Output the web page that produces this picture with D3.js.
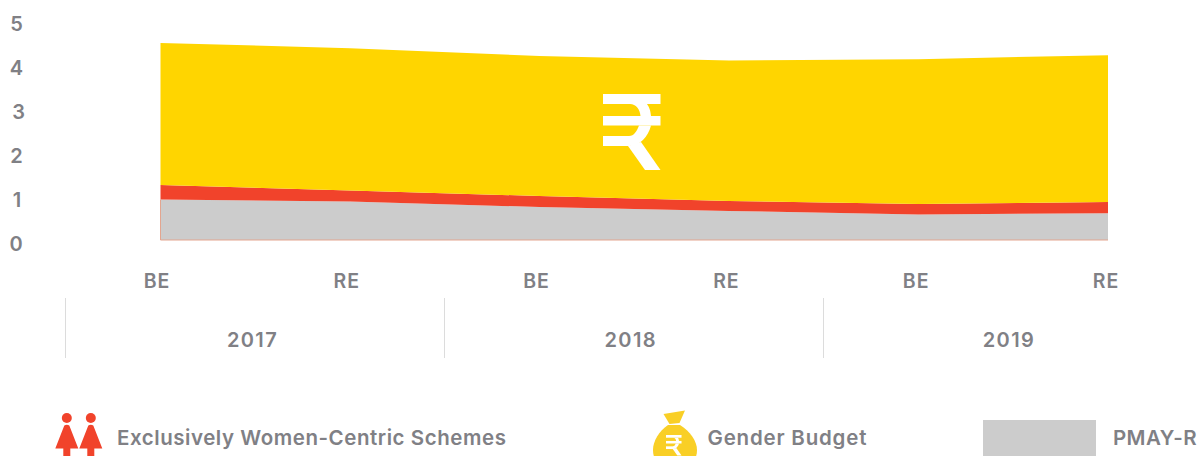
<!DOCTYPE html>
<html>
<head>
<meta charset="utf-8">
<script src="https://cdn.jsdelivr.net/npm/d3@7"></script>
<style>
html,body{margin:0;padding:0;background:#fff;overflow:hidden}
text{font-family:Inter,"Open Sans",sans-serif;font-weight:600;fill:#808085}
</style>
</head>
<body>
<svg id="c" width="1198" height="456"></svg>
<script>
const periods = ["BE","RE","BE","RE","BE","RE"];
const years = ["2017","2018","2019"];
const yTicks = [0,1,2,3,4,5];
const pmay = [0.92,0.875,0.75,0.66,0.58,0.61];
const women = [0.33,0.25,0.25,0.226,0.238,0.254];
const gender = [3.23,3.235,3.18,3.194,3.292,3.336];
const seriesNames = ["PMAY-R","Exclusively Women-Centric Schemes","Gender Budget"];
const seriesColors = ["#cccccc","#f1432b","#ffd500"];

const svg = d3.select("#c");
const idx = d3.range(periods.length);
const x = d3.scalePoint().domain(idx).range([160.5,1108]);
const y = d3.scaleLinear().domain([0,5]).range([240,20]);
const table = idx.map(i=>({i,[seriesNames[0]]:pmay[i],[seriesNames[1]]:women[i],[seriesNames[2]]:gender[i]}));
const stacked = d3.stack().keys(seriesNames)(table);
const area = d3.area().x(d=>x(d.data.i)).y0(d=>y(d[0])).y1(d=>y(d[1]));

svg.selectAll("path.band").data(stacked).join("path").attr("class","band")
  .attr("d",area).attr("fill",(d,i)=>seriesColors[i]);
svg.append("path").attr("d",d3.line()([[x(0),y(pmay[0])],[x(0),y(0)],[x(5),y(0)]]))
  .attr("fill","none").attr("stroke","#e3a58f").attr("stroke-width",1);

// y tick labels
const yLabelX = [16,17,16.5,18.5,16.5,16.5];
svg.selectAll("text.yt").data(yTicks).join("text").attr("class","yt")
  .attr("x",(d,i)=>yLabelX[i]).attr("y",d=>y(d)+11)
  .attr("text-anchor","middle").attr("font-size",20).text(d=>d);

// period labels
const xLab = d3.scalePoint().domain(idx).range([157,1106]);
svg.selectAll("text.per").data(idx).join("text").attr("class","per")
  .attr("x",d=>xLab(d)).attr("y",288).attr("text-anchor","middle")
  .attr("font-size",19.5).attr("letter-spacing",1).text(d=>periods[d]);

// year bands
const yr = d3.scalePoint().domain(years).range([252.5,1009]);
svg.selectAll("text.yr").data(years).join("text").attr("class","yr")
  .attr("x",d=>yr(d)).attr("y",347).attr("text-anchor","middle")
  .attr("font-size",20).attr("letter-spacing",1.4).text(d=>d);
const sep = d3.scalePoint().domain(years).range([65.5,823.5]);
svg.selectAll("line.sep").data(years).join("line").attr("class","sep")
  .attr("x1",d=>sep(d)).attr("x2",d=>sep(d)).attr("y1",298).attr("y2",358)
  .attr("stroke","#dcdcdc");

// rupee glyph
function rupee(g,color){
  const parts = [
    "M0 0H57.5V10H0Z",
    "M0 22H57.5V31.5H0Z",
    "M0 42H27V52H0Z",
    "M25 52L42 76H57.5L38 48Z",
    "M27 10C33 10 37 15 37.5 22H48C47.5 16 46 13 44 10Z",
    "M36 31.5C34 37 31 42 26 42V52C37 52 45 43 48 31.5Z"
  ];
  g.selectAll("path").data(parts).join("path").attr("fill",color).attr("d",d=>d);
}
rupee(svg.append("g").attr("transform","translate(603,94)"),"#fff");

// legend icons
const woman = svg.append("g").attr("fill","#f1432b");
[66.8,90.8].forEach(c=>{
  const g = woman.append("g").attr("transform",`translate(${c},0)`);
  g.append("circle").attr("cy",418).attr("r",5);
  g.append("path").attr("d","M-2.5 425.5Q0 424 2.5 425.5L11.5 448.5H3.5V456H-3.5V448.5H-11.5Z");
});
const bag = svg.append("g").attr("fill","#f9cf26");
bag.append("path").attr("d","M663.5 414L685 410.5L679.5 423L669.5 424Z");
bag.append("path").attr("d","M668 425H680C690 431 697 441 697 450C697 456 695 460 692 462H658C655 460 653 456 653 450C653 441 659 431 668 425Z");
rupee(svg.append("g").attr("transform","translate(666,435) scale(0.27)"),"#fff");

svg.append("rect").attr("x",983).attr("y",420).attr("width",113).attr("height",40).attr("fill",seriesColors[0]);

// legend text
const legendX = [1113,117,707.5];
const legendSpacing = [0.4,0.55,0.8];
svg.selectAll("text.lg").data(seriesNames).join("text").attr("class","lg")
  .attr("x",(d,i)=>legendX[i]).attr("y",445).attr("font-size",20.5)
  .attr("letter-spacing",(d,i)=>legendSpacing[i]).text(d=>d);
</script>
</body>
</html>
